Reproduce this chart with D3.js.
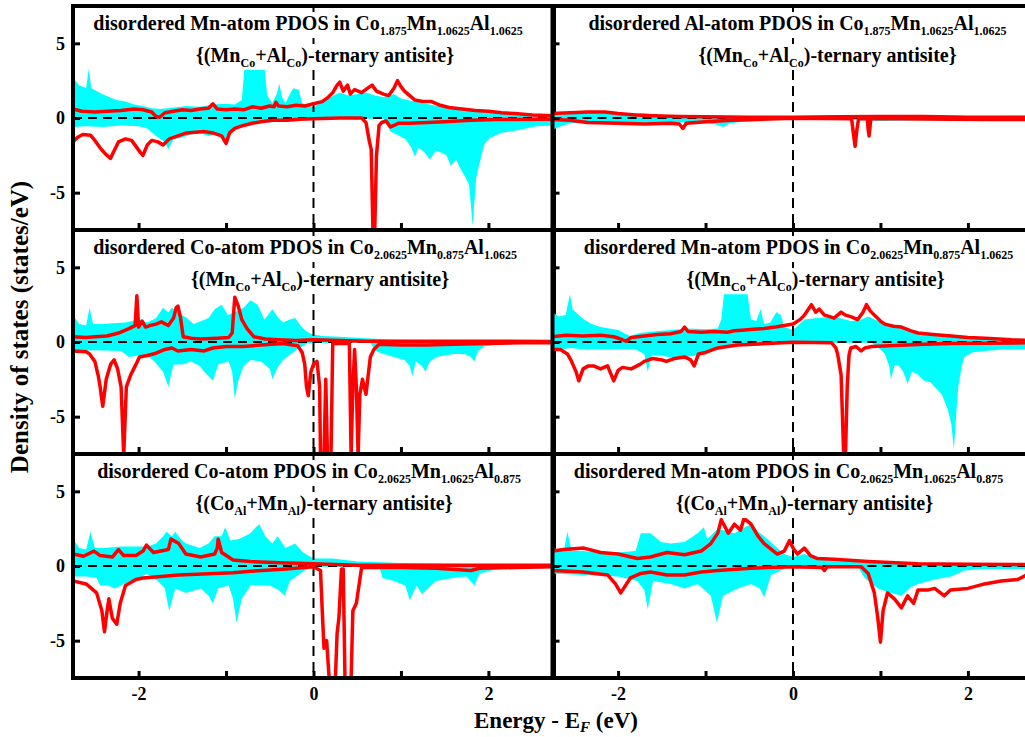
<!DOCTYPE html>
<html lang="en">
<head>
<meta charset="UTF-8">
<title>Disordered PDOS</title>
<script src="https://d3js.org/d3.v7.min.js"></script>
<style>
  body { margin: 0; background: #fff; }
  svg { display: block; }
  svg text { font-family: "Liberation Serif", "Times New Roman", "DejaVu Serif", serif; font-weight: bold; }
</style>
</head>
<body>
<svg width="1025" height="737"></svg>
<script>
// axis settings
var xDomain = [-2.75, 2.75],
    yDomain = [-7.5, 7.5],
    xTicks = [-2, -1, 0, 1, 2],
    xTickLabels = [-2, 0, 2],
    yTicks = [-5, 0, 5];

// titles (_{..} = subscript)
var titles = [
  "disordered Mn-atom PDOS in Co_{1.875}Mn_{1.0625}Al_{1.0625}",
  "disordered Al-atom PDOS in Co_{1.875}Mn_{1.0625}Al_{1.0625}",
  "disordered Co-atom PDOS in Co_{2.0625}Mn_{0.875}Al_{1.0625}",
  "disordered Mn-atom PDOS in Co_{2.0625}Mn_{0.875}Al_{1.0625}",
  "disordered Co-atom PDOS in Co_{2.0625}Mn_{1.0625}Al_{0.875}",
  "disordered Mn-atom PDOS in Co_{2.0625}Mn_{1.0625}Al_{0.875}"
];
var subtitles = [
  "{(Mn_{Co}+Al_{Co})-ternary antisite}",
  "{(Mn_{Co}+Al_{Co})-ternary antisite}",
  "{(Mn_{Co}+Al_{Co})-ternary antisite}",
  "{(Mn_{Co}+Al_{Co})-ternary antisite}",
  "{(Co_{Al}+Mn_{Al})-ternary antisite}",
  "{(Co_{Al}+Mn_{Al})-ternary antisite}"
];

// [energy (eV), DOS]
var p1CyanUp = [[-2.75,2.7],[-2.68,2.2],[-2.6,2.0],[-2.57,3.3],[-2.54,2.0],[-2.45,1.7],[-2.36,1.45],[-2.25,1.2],[-2.15,1.1],[-2.05,0.9],[-1.95,0.8],[-1.85,0.65],[-1.75,0.6],[-1.6,0.7],[-1.45,0.8],[-1.3,0.75],[-1.15,0.9],[-1.0,0.95],[-0.9,0.9],[-0.82,1.2],[-0.79,3.3],[-0.76,3.4],[-0.56,3.4],[-0.53,1.5],[-0.47,1.0],[-0.42,1.6],[-0.39,2.3],[-0.36,1.4],[-0.32,1.0],[-0.27,1.6],[-0.23,2.0],[-0.17,1.9],[-0.13,1.0],[-0.05,0.8],[0,0.7],[0.1,1.1],[0.2,1.4],[0.3,1.7],[0.4,1.5],[0.5,1.6],[0.6,1.7],[0.7,1.5],[0.8,1.4],[0.92,1.6],[1.0,1.3],[1.15,1.1],[1.33,0.9],[1.5,0.7],[1.7,0.55],[1.9,0.45],[2.1,0.35],[2.3,0.3],[2.55,0.25],[2.75,0.2]];
var p1CyanDown = [[-2.75,-0.6],[-2.6,-0.55],[-2.4,-0.6],[-2.2,-0.5],[-2.0,-0.55],[-1.9,-0.7],[-1.8,-1.2],[-1.7,-1.6],[-1.66,-2.1],[-1.6,-1.4],[-1.5,-1.3],[-1.4,-1.1],[-1.3,-1.0],[-1.2,-1.2],[-1.1,-1.1],[-1.0,-1.5],[-0.92,-0.8],[-0.8,-0.5],[-0.7,-0.35],[-0.5,-0.3],[-0.3,-0.2],[-0.1,-0.1],[0,-0.05],[0.8,-0.05],[0.88,-0.9],[0.95,-1.1],[1.05,-1.4],[1.12,-2.0],[1.16,-2.6],[1.2,-2.0],[1.27,-2.3],[1.33,-2.8],[1.4,-2.2],[1.45,-2.3],[1.52,-2.5],[1.57,-3.2],[1.63,-2.8],[1.69,-3.5],[1.74,-4.0],[1.78,-4.5],[1.82,-7.2],[1.86,-4.0],[1.9,-3.0],[1.95,-1.8],[2.0,-1.4],[2.14,-1.0],[2.35,-0.8],[2.55,-0.55],[2.75,-0.5]];
var p1RedUp = [[-2.75,0.6],[-2.65,0.45],[-2.5,0.4],[-2.35,0.45],[-2.2,0.5],[-2.05,0.6],[-1.95,0.55],[-1.85,0.4],[-1.8,0.1],[-1.76,0.05],[-1.7,0.35],[-1.6,0.45],[-1.5,0.55],[-1.4,0.5],[-1.3,0.6],[-1.2,0.65],[-1.15,0.95],[-1.1,0.6],[-1.0,0.55],[-0.9,0.6],[-0.8,0.55],[-0.7,0.75],[-0.6,0.65],[-0.5,0.8],[-0.45,0.75],[-0.43,1.05],[-0.4,0.8],[-0.3,0.75],[-0.2,0.85],[-0.1,0.8],[0,0.95],[0.1,1.1],[0.17,1.4],[0.22,1.7],[0.27,2.2],[0.3,2.4],[0.34,1.8],[0.39,2.2],[0.42,1.6],[0.47,1.9],[0.55,1.7],[0.62,2.0],[0.67,2.2],[0.72,1.8],[0.8,1.6],[0.86,1.5],[0.92,2.0],[0.96,2.5],[1.0,2.1],[1.04,1.8],[1.1,1.5],[1.16,1.2],[1.25,1.1],[1.35,1.1],[1.45,0.85],[1.55,0.7],[1.7,0.6],[1.85,0.5],[2.0,0.45],[2.15,0.35],[2.3,0.3],[2.5,0.2],[2.75,0.15]];
var p1RedDown = [[-2.75,-1.6],[-2.7,-1.3],[-2.64,-1.1],[-2.55,-1.15],[-2.5,-1.5],[-2.44,-2.0],[-2.38,-2.4],[-2.32,-2.7],[-2.28,-2.2],[-2.23,-1.6],[-2.15,-1.4],[-2.08,-1.5],[-2.03,-1.9],[-1.98,-2.3],[-1.95,-2.5],[-1.9,-1.8],[-1.85,-1.5],[-1.78,-1.6],[-1.72,-1.8],[-1.65,-1.4],[-1.55,-1.2],[-1.45,-1.0],[-1.35,-0.95],[-1.25,-0.9],[-1.15,-1.0],[-1.05,-1.2],[-1.0,-1.7],[-0.96,-1.0],[-0.9,-0.7],[-0.8,-0.5],[-0.7,-0.35],[-0.6,-0.25],[-0.47,-0.15],[-0.3,-0.15],[-0.15,-0.08],[0,-0.05],[0.3,0],[0.55,0],[0.6,-0.3],[0.64,-1.6],[0.66,-2.1],[0.68,-7.6],[0.7,-7.6],[0.72,-2.5],[0.75,-0.5],[0.78,-0.3],[0.83,-0.2],[0.88,-0.6],[0.92,-0.5],[0.97,-0.35],[1.1,-0.35],[1.3,-0.3],[1.5,-0.25],[1.8,-0.15],[2.1,-0.1],[2.75,-0.08]];

var p2CyanUp = [[-2.75,0.3],[-2.5,0.3],[-2.2,0.35],[-2.0,0.35],[-1.7,0.3],[-1.5,0.2],[-1.2,0.15],[-0.8,0.15],[-0.4,0.12],[0,0.1],[0.5,0.15],[1.0,0.15],[1.5,0.15],[2.0,0.12],[2.75,0.15]];
var p2CyanDown = [[-2.75,-0.8],[-2.68,-0.6],[-2.55,-0.35],[-2.3,-0.3],[-2.0,-0.35],[-1.7,-0.35],[-1.4,-0.3],[-1.1,-0.3],[-0.9,-0.4],[-0.8,-0.6],[-0.72,-0.35],[-0.5,-0.2],[-0.2,-0.1],[0,-0.05],[0.5,-0.1],[1.0,-0.2],[1.5,-0.15],[2.0,-0.2],[2.5,-0.15],[2.75,-0.2]];
var p2RedUp = [[-2.75,0.3],[-2.55,0.35],[-2.35,0.4],[-2.15,0.4],[-2.0,0.3],[-1.8,0.2],[-1.6,0.15],[-1.3,0.1],[-1.0,0.08],[-0.5,0.05],[0,0.05],[0.5,0.08],[1.0,0.1],[1.5,0.1],[2.0,0.05],[2.75,0.05]];
var p2RedDown = [[-2.75,-0.1],[-2.55,-0.15],[-2.35,-0.3],[-2.0,-0.35],[-1.7,-0.4],[-1.4,-0.35],[-1.3,-0.4],[-1.26,-0.7],[-1.22,-0.35],[-1.0,-0.25],[-0.7,-0.15],[-0.4,-0.1],[0,-0.02],[0.67,-0.05],[0.69,-1.0],[0.71,-1.9],[0.73,-0.8],[0.75,-0.05],[0.85,-0.05],[0.86,-0.8],[0.87,-1.2],[0.89,-0.05],[1.2,-0.05],[1.8,-0.08],[2.3,-0.1],[2.75,-0.1]];

var p3CyanUp = [[-2.75,1.8],[-2.68,1.2],[-2.6,1.1],[-2.56,2.3],[-2.52,1.2],[-2.4,1.2],[-2.3,1.25],[-2.15,1.3],[-2.0,1.5],[-1.9,1.3],[-1.8,1.6],[-1.72,2.3],[-1.66,2.0],[-1.62,2.3],[-1.55,2.0],[-1.45,1.6],[-1.37,1.2],[-1.28,1.4],[-1.2,1.6],[-1.13,2.2],[-1.05,2.5],[-0.98,1.8],[-0.9,2.0],[-0.8,2.3],[-0.72,2.8],[-0.64,2.5],[-0.56,1.5],[-0.47,2.2],[-0.4,1.6],[-0.35,1.3],[-0.27,1.5],[-0.21,1.6],[-0.15,1.1],[-0.1,0.8],[-0.05,0.6],[0,0.5],[0.1,0.4],[0.3,0.35],[0.6,0.25],[0.9,0.15],[1.5,0.12],[2.0,0.1],[2.75,0.08]];
var p3CyanDown = [[-2.75,-0.6],[-2.5,-0.55],[-2.2,-0.6],[-2.11,-1.0],[-2.0,-0.9],[-1.9,-0.9],[-1.82,-1.3],[-1.72,-2.0],[-1.66,-3.0],[-1.6,-1.5],[-1.5,-1.5],[-1.4,-1.3],[-1.3,-1.6],[-1.25,-2.0],[-1.15,-2.6],[-1.09,-1.5],[-0.97,-1.3],[-0.93,-2.0],[-0.9,-3.8],[-0.86,-2.6],[-0.8,-1.6],[-0.72,-1.2],[-0.6,-1.3],[-0.5,-1.8],[-0.47,-2.5],[-0.42,-1.8],[-0.35,-1.2],[-0.28,-0.9],[-0.19,-0.5],[-0.07,-0.1],[0,-0.05],[0.65,-0.05],[0.71,-0.6],[0.8,-0.8],[0.92,-1.0],[1.04,-1.2],[1.1,-1.6],[1.13,-2.3],[1.17,-1.3],[1.24,-1.6],[1.28,-2.0],[1.33,-1.3],[1.41,-1.0],[1.5,-0.9],[1.61,-0.8],[1.73,-0.8],[1.8,-1.0],[1.84,-1.3],[1.88,-0.6],[1.95,-0.3],[2.1,-0.15],[2.4,-0.08],[2.75,-0.05]];
var p3RedUp = [[-2.75,0.35],[-2.6,0.3],[-2.5,0.35],[-2.36,0.4],[-2.23,0.6],[-2.11,0.9],[-2.04,1.1],[-2.02,3.1],[-2.0,1.0],[-1.96,1.4],[-1.92,1.0],[-1.87,1.1],[-1.8,1.2],[-1.74,1.35],[-1.66,1.1],[-1.6,1.6],[-1.57,2.3],[-1.55,2.4],[-1.52,1.6],[-1.49,0.35],[-1.4,0.25],[-1.29,0.2],[-1.1,0.25],[-0.97,0.3],[-0.93,0.6],[-0.9,3.0],[-0.86,2.4],[-0.82,1.5],[-0.76,0.9],[-0.68,0.35],[-0.55,0.2],[-0.4,0.15],[-0.2,0.1],[0,0.15],[0.3,0.1],[0.6,0.05],[1.0,0.05],[1.5,0.05],[2.0,0.05],[2.75,0.03]];
var p3RedDown = [[-2.75,-0.6],[-2.6,-0.65],[-2.56,-0.8],[-2.5,-1.3],[-2.46,-2.3],[-2.44,-3.0],[-2.41,-4.3],[-2.37,-2.5],[-2.32,-1.5],[-2.28,-1.2],[-2.24,-1.8],[-2.2,-3.0],[-2.17,-7.6],[-2.14,-3.0],[-2.09,-2.2],[-2.03,-1.5],[-1.99,-1.0],[-1.9,-0.9],[-1.8,-0.75],[-1.7,-0.5],[-1.62,-0.4],[-1.55,-0.6],[-1.4,-0.5],[-1.25,-0.6],[-1.15,-0.4],[-1.0,-0.3],[-0.8,-0.3],[-0.6,-0.2],[-0.35,-0.1],[-0.18,-0.25],[-0.13,-0.7],[-0.1,-1.5],[-0.08,-3.0],[-0.06,-3.6],[-0.03,-2.0],[0,-1.5],[0.04,-1.3],[0.07,-3.0],[0.08,-7.6],[0.12,-7.6],[0.14,-2.5],[0.16,-7.6],[0.2,-7.6],[0.22,-0.1],[0.41,-0.1],[0.43,-7.6],[0.45,-3.0],[0.47,-0.5],[0.49,-3.0],[0.51,-7.6],[0.53,-3.5],[0.56,-2.5],[0.6,-3.5],[0.63,-2.0],[0.65,-1.0],[0.69,-0.5],[0.75,-0.15],[1.0,-0.2],[1.3,-0.2],[1.6,-0.15],[2.0,-0.1],[2.4,-0.05],[2.75,-0.05]];

var p4CyanUp = [[-2.75,2.0],[-2.68,1.7],[-2.6,1.8],[-2.55,3.2],[-2.52,2.2],[-2.45,1.8],[-2.39,1.5],[-2.3,1.2],[-2.2,1.0],[-2.1,0.9],[-2.0,0.8],[-1.9,0.5],[-1.86,0.4],[-1.75,0.6],[-1.6,0.7],[-1.4,0.8],[-1.2,0.9],[-1.0,0.85],[-0.86,0.9],[-0.82,1.5],[-0.79,3.2],[-0.52,3.2],[-0.48,1.5],[-0.42,1.4],[-0.37,2.2],[-0.33,1.2],[-0.26,1.3],[-0.19,2.0],[-0.14,1.8],[-0.1,1.0],[0,0.8],[0.13,1.5],[0.28,1.6],[0.47,1.7],[0.66,1.4],[0.78,1.5],[0.86,1.7],[1.05,1.2],[1.25,0.9],[1.43,0.6],[1.6,0.45],[1.81,0.35],[2.19,0.25],[2.75,0.2]];
var p4CyanDown = [[-2.75,-0.6],[-2.6,-0.45],[-2.54,-0.4],[-2.4,-0.5],[-2.1,-0.5],[-1.8,-0.5],[-1.7,-0.8],[-1.66,-2.0],[-1.62,-0.9],[-1.5,-0.9],[-1.35,-1.1],[-1.24,-1.0],[-1.1,-0.9],[-1.0,-0.7],[-0.86,-0.4],[-0.6,-0.2],[-0.3,-0.15],[0,-0.05],[0.9,-0.05],[1.0,-0.5],[1.05,-0.8],[1.1,-1.6],[1.12,-2.5],[1.16,-1.6],[1.2,-1.5],[1.26,-2.0],[1.31,-2.8],[1.36,-2.0],[1.43,-2.2],[1.5,-2.6],[1.57,-2.7],[1.62,-3.0],[1.7,-3.5],[1.77,-4.5],[1.81,-5.5],[1.84,-7.2],[1.87,-4.5],[1.89,-3.0],[1.93,-1.6],[1.96,-1.0],[2.05,-0.7],[2.19,-0.6],[2.4,-0.5],[2.75,-0.5]];
var p4RedUp = [[-2.75,0.35],[-2.6,0.45],[-2.4,0.4],[-2.2,0.45],[-2.05,0.35],[-1.97,0.2],[-1.91,0.05],[-1.85,0.3],[-1.7,0.4],[-1.55,0.5],[-1.4,0.55],[-1.28,0.7],[-1.24,1.0],[-1.2,0.7],[-1.05,0.65],[-0.9,0.7],[-0.75,0.65],[-0.67,0.75],[-0.55,0.8],[-0.45,0.85],[-0.33,0.9],[-0.2,1.0],[-0.1,1.1],[0,1.2],[0.08,1.5],[0.13,1.8],[0.21,2.5],[0.26,2.0],[0.3,2.2],[0.36,1.8],[0.42,1.7],[0.47,1.6],[0.55,2.0],[0.6,1.8],[0.66,1.7],[0.74,1.5],[0.8,2.0],[0.84,2.5],[0.88,2.1],[0.93,1.8],[1.0,1.4],[1.05,1.2],[1.15,1.05],[1.24,1.0],[1.35,0.75],[1.43,0.6],[1.6,0.5],[1.81,0.4],[2.0,0.3],[2.2,0.25],[2.5,0.15],[2.75,0.1]];
var p4RedDown = [[-2.75,-0.5],[-2.66,-0.5],[-2.58,-0.8],[-2.54,-1.2],[-2.48,-2.0],[-2.45,-2.6],[-2.4,-1.8],[-2.34,-1.6],[-2.28,-1.6],[-2.2,-1.8],[-2.12,-1.6],[-2.05,-2.6],[-2.0,-1.9],[-1.95,-1.7],[-1.85,-1.8],[-1.75,-1.5],[-1.7,-1.3],[-1.6,-1.1],[-1.5,-1.2],[-1.45,-1.3],[-1.35,-1.1],[-1.24,-1.0],[-1.17,-1.2],[-1.13,-1.6],[-1.08,-0.8],[-1.0,-0.7],[-0.86,-0.4],[-0.75,-0.3],[-0.63,-0.2],[-0.45,-0.15],[-0.29,-0.1],[0,-0.02],[0.44,-0.05],[0.49,-0.4],[0.51,-0.8],[0.55,-2.2],[0.58,-7.6],[0.6,-7.6],[0.62,-3.0],[0.64,-0.9],[0.66,-0.4],[0.72,-0.3],[0.78,-0.6],[0.82,-0.4],[0.9,-0.3],[1.1,-0.25],[1.3,-0.2],[1.5,-0.15],[1.81,-0.1],[2.2,-0.08],[2.75,-0.05]];

var p5CyanUp = [[-2.75,1.8],[-2.68,1.2],[-2.6,1.1],[-2.55,2.3],[-2.5,1.2],[-2.4,1.2],[-2.2,1.3],[-2.0,1.3],[-1.9,1.3],[-1.8,1.5],[-1.72,2.0],[-1.68,2.3],[-1.62,2.0],[-1.58,2.3],[-1.52,1.8],[-1.46,1.5],[-1.3,1.2],[-1.2,1.5],[-1.13,2.0],[-1.05,2.0],[-1.01,2.6],[-0.95,1.7],[-0.85,1.8],[-0.72,2.2],[-0.66,2.6],[-0.62,2.8],[-0.55,2.0],[-0.47,1.5],[-0.41,2.0],[-0.32,1.2],[-0.21,1.5],[-0.12,0.9],[0,0.5],[0.22,0.5],[0.5,0.3],[1.0,0.2],[1.5,0.15],[2.0,0.12],[2.75,0.1]];
var p5CyanDown = [[-2.75,-0.7],[-2.6,-0.7],[-2.48,-0.8],[-2.44,-1.3],[-2.35,-1.3],[-2.27,-1.5],[-2.1,-1.0],[-2.0,-0.9],[-1.91,-0.5],[-1.78,-1.0],[-1.7,-1.5],[-1.65,-3.0],[-1.58,-1.5],[-1.46,-1.8],[-1.29,-1.5],[-1.2,-2.0],[-1.15,-2.5],[-1.09,-1.5],[-0.97,-1.3],[-0.92,-2.2],[-0.88,-3.8],[-0.82,-2.2],[-0.72,-1.3],[-0.5,-1.3],[-0.4,-1.6],[-0.33,-2.0],[-0.27,-1.0],[-0.1,-0.3],[0,-0.05],[0.75,-0.05],[0.79,-0.8],[0.92,-1.0],[1.05,-1.3],[1.1,-2.3],[1.18,-1.3],[1.24,-1.9],[1.4,-1.0],[1.6,-0.8],[1.75,-0.7],[1.84,-1.3],[1.9,-0.5],[2.1,-0.2],[2.4,-0.1],[2.75,-0.05]];
var p5RedUp = [[-2.75,0.8],[-2.63,0.65],[-2.51,1.0],[-2.44,0.7],[-2.3,0.6],[-2.23,1.1],[-2.17,0.7],[-2.03,0.7],[-1.95,1.0],[-1.91,1.4],[-1.83,0.9],[-1.66,1.1],[-1.63,1.8],[-1.54,1.5],[-1.46,0.8],[-1.29,0.6],[-1.13,0.8],[-1.1,1.2],[-1.09,1.8],[-1.05,0.9],[-0.92,0.4],[-0.72,0.3],[-0.31,0.2],[0,0.15],[0.5,0.05],[1.0,0.05],[1.5,0.05],[2.0,0.05],[2.75,0.05]];
var p5RedDown = [[-2.75,-1.0],[-2.6,-1.2],[-2.48,-1.8],[-2.42,-3.0],[-2.39,-4.4],[-2.36,-3.0],[-2.34,-2.2],[-2.3,-3.5],[-2.25,-3.9],[-2.21,-2.5],[-2.15,-1.3],[-2.03,-0.9],[-1.95,-0.8],[-1.54,-0.6],[-1.13,-0.5],[-0.92,-0.45],[-0.72,-0.35],[-0.31,-0.2],[0,-0.05],[0.08,-0.3],[0.1,-3.0],[0.12,-5.5],[0.15,-5.0],[0.18,-7.6],[0.25,-7.6],[0.27,-4.5],[0.29,-3.5],[0.32,-0.2],[0.34,-0.2],[0.36,-7.6],[0.43,-7.6],[0.45,-3.0],[0.49,-2.5],[0.55,-0.1],[1.0,-0.1],[1.4,-0.15],[1.8,-0.3],[1.9,-0.15],[2.3,-0.1],[2.75,-0.05]];

var p6CyanUp = [[-2.75,1.2],[-2.62,1.0],[-2.58,2.3],[-2.53,1.0],[-2.4,1.0],[-2.2,0.9],[-2.0,0.9],[-1.8,1.0],[-1.76,1.8],[-1.74,2.2],[-1.63,2.2],[-1.51,1.6],[-1.4,1.5],[-1.24,1.6],[-1.09,2.2],[-1.02,2.6],[-0.98,1.8],[-0.86,2.5],[-0.67,2.2],[-0.55,2.6],[-0.48,2.8],[-0.4,2.3],[-0.33,2.0],[-0.18,1.2],[-0.1,0.8],[0,0.6],[0.13,0.8],[0.28,0.5],[0.66,0.3],[1.05,0.15],[1.8,0.12],[2.75,0.1]];
var p6CyanDown = [[-2.75,-0.5],[-2.4,-0.6],[-2.0,-0.7],[-1.78,-1.0],[-1.7,-1.6],[-1.66,-2.9],[-1.6,-1.0],[-1.4,-1.2],[-1.24,-1.5],[-1.09,-1.2],[-0.94,-2.0],[-0.87,-3.8],[-0.8,-2.0],[-0.63,-1.5],[-0.48,-1.2],[-0.38,-1.5],[-0.33,-2.1],[-0.25,-0.6],[-0.1,-0.2],[0,-0.05],[0.74,-0.05],[0.82,-0.8],[0.97,-1.5],[1.12,-1.8],[1.24,-2.0],[1.35,-1.4],[1.43,-1.2],[1.62,-0.9],[1.81,-0.7],[1.96,-0.3],[2.19,-0.2],[2.75,-0.2]];
var p6RedUp = [[-2.75,1.0],[-2.62,1.1],[-2.39,1.2],[-2.2,0.9],[-2.0,0.8],[-1.78,0.5],[-1.63,0.6],[-1.44,0.9],[-1.24,0.75],[-1.05,1.0],[-0.94,1.5],[-0.86,2.2],[-0.82,3.1],[-0.74,2.2],[-0.67,2.8],[-0.6,2.4],[-0.56,3.2],[-0.48,2.8],[-0.4,2.0],[-0.33,1.5],[-0.18,0.8],[-0.1,1.0],[-0.04,1.7],[0,1.2],[0.05,0.8],[0.13,1.2],[0.2,0.7],[0.28,0.5],[0.47,0.45],[0.86,0.3],[1.43,0.15],[2.0,0.12],[2.75,0.1]];
var p6RedDown = [[-2.75,-0.3],[-2.4,-0.4],[-2.12,-0.6],[-2.03,-1.2],[-1.97,-1.8],[-1.86,-0.8],[-1.74,-0.5],[-1.63,-0.4],[-1.44,-0.6],[-1.24,-0.6],[-1.05,-0.4],[-0.86,-0.3],[-0.48,-0.15],[0,-0.05],[0.33,-0.1],[0.36,-0.3],[0.39,-0.05],[0.78,-0.05],[0.86,-0.5],[0.93,-1.8],[0.97,-3.5],[1.0,-5.1],[1.03,-3.0],[1.08,-1.8],[1.16,-2.2],[1.24,-2.8],[1.31,-2.0],[1.38,-2.5],[1.43,-1.6],[1.55,-1.6],[1.62,-1.5],[1.73,-2.0],[1.8,-1.6],[2.0,-1.5],[2.19,-1.2],[2.38,-1.0],[2.57,-0.9],[2.67,-0.6],[2.75,-0.5]];

var cyanUp = [p1CyanUp, p2CyanUp, p3CyanUp, p4CyanUp, p5CyanUp, p6CyanUp];
var cyanDown = [p1CyanDown, p2CyanDown, p3CyanDown, p4CyanDown, p5CyanDown, p6CyanDown];
var redUp = [p1RedUp, p2RedUp, p3RedUp, p4RedUp, p5RedUp, p6RedUp];
var redDown = [p1RedDown, p2RedDown, p3RedDown, p4RedDown, p5RedDown, p6RedDown];

// layout
var W = 481, H = 224,
    colX = [73, 552.5],
    rowY = [6, 230, 454],
    titleX = [[235, 252], [245, 275], [232, 247], [246, 263], [236, 251], [236, 252]],
    serif = '"Liberation Serif", "Times New Roman", "DejaVu Serif", serif',
    cyan = "#00ffff", red = "#ff0000";

var svg = d3.select("svg");
var x = d3.scaleLinear().domain(xDomain).range([0, W]);
var y = d3.scaleLinear().domain(yDomain).range([H, 0]);

var area = d3.area().x(function(d) { return x(d[0]); }).y0(y(0)).y1(function(d) { return y(d[1]); });
var line = d3.line().x(function(d) { return x(d[0]); }).y(function(d) { return y(d[1]); });

// text with _{..} subscripts
function richText(sel, str, size, subSize, shift) {
  var parts = str.split(/_\{([^}]*)\}/);
  var down = false;
  parts.forEach(function(s, k) {
    if (s === "") return;
    var t = sel.append("tspan").text(s);
    if (k % 2 === 1) {
      t.attr("font-size", subSize);
      if (!down) { t.attr("dy", shift); down = true; }
    } else {
      t.attr("font-size", size);
      if (down) { t.attr("dy", -shift); down = false; }
    }
  });
}

titles.forEach(function(title, i) {
  var row = Math.floor(i / 2), col = i % 2;
  var g = svg.append("g")
    .attr("transform", "translate(" + colX[col] + "," + rowY[row] + ")");

  g.append("clipPath").attr("id", "clip" + i)
    .append("rect").attr("width", W).attr("height", H);

  var plot = g.append("g").attr("clip-path", "url(#clip" + i + ")");

  plot.append("path").datum(cyanUp[i]).attr("d", area).attr("fill", cyan);
  plot.append("path").datum(cyanDown[i]).attr("d", area).attr("fill", cyan);

  plot.append("line")
    .attr("x1", 0).attr("x2", W).attr("y1", y(0)).attr("y2", y(0))
    .attr("stroke", "#000").attr("stroke-width", 2).attr("stroke-dasharray", "9,6");
  plot.append("line")
    .attr("x1", x(0)).attr("x2", x(0)).attr("y1", 0).attr("y2", H)
    .attr("stroke", "#000").attr("stroke-width", 2).attr("stroke-dasharray", "10,6");

  [redDown[i], redUp[i]].forEach(function(s) {
    plot.append("path").datum(s).attr("d", line)
      .attr("fill", "none").attr("stroke", red).attr("stroke-width", 3.5)
      .attr("stroke-linejoin", "round");
  });

  // titles on a white box
  var lines = [[title, 24], [subtitles[i], 56]];
  lines.forEach(function(l, k) {
    var box = g.append("rect").attr("fill", "#fff");
    var t = g.append("text")
      .attr("x", titleX[i][k]).attr("y", l[1])
      .attr("font-family", serif).attr("font-weight", "bold")
      .attr("text-anchor", "middle").attr("font-size", 20);
    richText(t, l[0], 20, 12, 5);
    var bb = t.node().getBBox();
    box.attr("x", bb.x - 2).attr("y", bb.y).attr("width", bb.width + 4).attr("height", bb.height);
  });

  // axes, inward ticks
  var xAxis = d3.axisBottom(x).tickValues(xTicks).tickSize(-7).tickPadding(9)
    .tickFormat(function(d) { return row === 2 && xTickLabels.indexOf(d) >= 0 ? String(d) : ""; });
  var yAxis = d3.axisLeft(y).tickValues(yTicks).tickSize(-7).tickPadding(8)
    .tickFormat(function(d) { return col === 0 ? String(d) : ""; });

  var gx = g.append("g").attr("transform", "translate(0," + H + ")").call(xAxis);
  var gy = g.append("g").call(yAxis);
  [gx, gy].forEach(function(a) {
    a.attr("font-family", serif).attr("font-size", 18).attr("font-weight", "bold");
    a.select(".domain").remove();
    a.selectAll("line").attr("stroke", "#000").attr("stroke-width", 3);
    a.selectAll("text").attr("fill", "#000");
  });

  g.append("rect").attr("width", W).attr("height", H)
    .attr("fill", "none").attr("stroke", "#000").attr("stroke-width", 4);
});

// axis titles
svg.append("text")
  .attr("transform", "translate(28,327) rotate(-90)")
  .attr("font-family", serif).attr("font-weight", "bold")
  .attr("text-anchor", "middle").attr("font-size", 25)
  .text("Density of states (states/eV)");

var xl = svg.append("text")
  .attr("x", 556).attr("y", 728)
  .attr("font-family", serif).attr("font-weight", "bold")
  .attr("text-anchor", "middle").attr("font-size", 23);
xl.append("tspan").text("Energy - E");
xl.append("tspan").attr("font-size", 15).attr("font-style", "italic").attr("dy", 4).text("F");
xl.append("tspan").attr("dy", -4).text(" (eV)");
</script>
</body>
</html>
